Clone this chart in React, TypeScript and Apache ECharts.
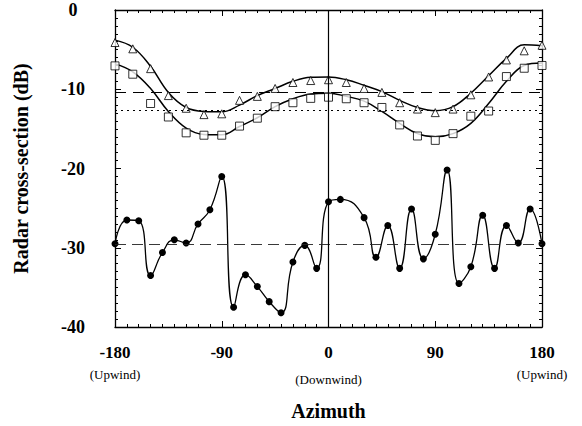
import React, { useEffect, useRef } from "react";
import * as echarts from "echarts";

// Azimuths (degrees) of the open markers and fitted curves
const markerAzimuths = [-180, -165, -150, -135, -120, -105, -90, -75, -60, -45, -30, -15, 0, 15, 30, 45, 60, 75, 90, 105, 120, 135, 150, 165, 180];
// Triangles (measured)
const triangleValues = [-4.1, -4.9, -7.4, -10.8, -12.4, -13.2, -13.1, -11.4, -10.9, -9.9, -9.15, -8.9, -8.8, -9.15, -9.9, -10.4, -11.7, -12.5, -12.95, -12.5, -10.7, -8.45, -6.3, -5.15, -4.45];
// Squares (measured)
const squareValues = [-7.05, -8.1, -11.8, -13.5, -15.5, -15.8, -15.8, -14.65, -13.65, -12.2, -11.7, -11.15, -11.0, -11.2, -11.7, -12.3, -14.5, -15.9, -16.45, -15.6, -13.4, -12.75, -8.4, -7.35, -7.0];
// Fitted curves
const triangleFit = [-3.8, -4.7, -7.1, -10.4, -12.3, -12.8, -12.85, -12.0, -10.8, -9.9, -9.0, -8.5, -8.45, -8.8, -9.5, -10.3, -11.4, -12.3, -12.7, -12.2, -10.5, -8.3, -6.1, -4.4, -4.5];
const squareFit = [-6.8, -7.8, -9.9, -12.8, -14.9, -15.7, -15.75, -14.7, -13.6, -12.2, -11.2, -10.6, -10.5, -10.9, -11.5, -12.8, -14.3, -15.6, -16.0, -15.6, -14.3, -11.8, -9.0, -7.0, -6.7];

// Filled dots (lower series)
const dotAzimuths = [-180, -170, -160, -150, -140, -130, -120, -110, -100, -90, -80, -70, -60, -50, -40, -30, -20, -10, 0, 10, 30, 40, 50, 60, 70, 80, 90, 100, 110, 120, 130, 140, 150, 160, 170, 180];
const dotValues = [-29.5, -26.5, -26.6, -33.5, -30.6, -29.0, -29.4, -27.0, -25.2, -21.0, -37.5, -33.4, -34.9, -36.8, -38.2, -31.8, -29.7, -32.6, -24.2, -23.9, -26.2, -31.2, -27.2, -32.6, -25.1, -31.4, -28.3, -20.2, -34.5, -32.4, -25.9, -32.6, -27.2, -29.4, -25.1, -29.5];

// Reference lines
const upperDashed = -10.4;
const upperDotted = -12.6;
const lowerDashed = -29.6;
const downwindAzimuth = 0;

const xTicks = [-180, -90, 0, 90, 180];
const xSubLabels: Record<string, string> = { "-180": "(Upwind)", "0": "(Downwind)", "180": "(Upwind)" };

const FONT = "Liberation Serif";

const pairs = (xs: number[], ys: number[]) => xs.map((x, i) => [x, ys[i]]);

export default function App() {
  const ref = useRef<HTMLDivElement>(null);
  useEffect(() => {
    document.body.style.margin = "0";
    const chart = echarts.init(ref.current!, null, { renderer: "svg" });
    const axisCommon = {
      axisLine: { show: true, onZero: false, lineStyle: { color: "#000", width: 1.3 } },
      axisTick: { show: true, inside: true, length: 6, lineStyle: { color: "#000", width: 1 } },
      minorTick: { show: true, length: 3, lineStyle: { color: "#000", width: 1 } },
      splitLine: { show: false },
      minorSplitLine: { show: false },
    };
    chart.setOption({
      animation: false,
      backgroundColor: "#fff",
      grid: { left: 115, right: 40, top: 10, height: 318 },
      xAxis: [
        {
          type: "value", min: -180, max: 180, interval: 90, position: "bottom",
          ...axisCommon,
          minorTick: { ...axisCommon.minorTick, splitNumber: 9 },
          name: "Azimuth", nameLocation: "middle", nameGap: 74,
          nameTextStyle: { fontFamily: FONT, fontWeight: "bold", fontSize: 20, color: "#000" },
          axisLabel: {
            margin: 14,
            fontFamily: FONT,
            color: "#000",
            formatter: (v: number) => {
              const sub = xSubLabels[String(v)];
              if (!xTicks.includes(v)) return "";
              if (!sub) return `{a|${v}}`;
              return v === 0 ? `{a|${v}}\n{d|${sub}}` : `{a|${v}}\n{b|${sub}}`;
            },
            rich: {
              a: { fontFamily: FONT, fontWeight: "bold", fontSize: 17, lineHeight: 22, color: "#000" },
              b: { fontFamily: FONT, fontSize: 13, lineHeight: 22, color: "#000" },
              d: { fontFamily: FONT, fontSize: 13, lineHeight: 32, color: "#000" },
            },
          },
        },
        {
          type: "value", min: -180, max: 180, interval: 90, position: "top",
          ...axisCommon,
          minorTick: { ...axisCommon.minorTick, splitNumber: 9 },
          axisLabel: { show: false },
        },
      ],
      yAxis: [
        {
          type: "value", min: -40, max: 0, interval: 10, position: "left",
          ...axisCommon,
          minorTick: { ...axisCommon.minorTick, splitNumber: 10 },
          name: "Radar cross-section (dB)", nameLocation: "middle", nameGap: 84,
          nameTextStyle: { fontFamily: FONT, fontWeight: "bold", fontSize: 20, color: "#000" },
          axisLabel: { margin: 42, align: "center", fontFamily: FONT, fontWeight: "bold", fontSize: 18, color: "#000" },
        },
        {
          type: "value", min: -40, max: 0, interval: 10, position: "right",
          ...axisCommon,
          minorTick: { ...axisCommon.minorTick, splitNumber: 10 },
          axisLabel: { show: false },
        },
      ],
      series: [
        {
          type: "line", name: "triangle fit", data: pairs(markerAzimuths, triangleFit),
          smooth: 0.4, showSymbol: false, symbol: "none",
          lineStyle: { color: "#000", width: 1.5 }, z: 2,
        },
        {
          type: "line", name: "square fit", data: pairs(markerAzimuths, squareFit),
          smooth: 0.4, showSymbol: false, symbol: "none",
          lineStyle: { color: "#000", width: 1.5 }, z: 2,
        },
        {
          type: "scatter", name: "triangles", data: pairs(markerAzimuths, triangleValues),
          symbol: "triangle", symbolSize: 8,
          itemStyle: { color: "#fff", borderColor: "#000", borderWidth: 1 }, z: 3,
        },
        {
          type: "scatter", name: "squares", data: pairs(markerAzimuths, squareValues),
          symbol: "rect", symbolSize: 8,
          itemStyle: { color: "#fff", borderColor: "#000", borderWidth: 1 }, z: 3,
        },
        {
          type: "line", name: "dots", data: pairs(dotAzimuths, dotValues),
          smooth: 0.5, symbol: "circle", symbolSize: 7, showSymbol: true,
          lineStyle: { color: "#000", width: 1.3 },
          itemStyle: { color: "#000" }, z: 3,
          markLine: {
            silent: true, symbol: "none", label: { show: false },
            data: [
              { yAxis: upperDashed, lineStyle: { color: "#000", width: 1, type: [11, 7] } },
              { yAxis: upperDotted, lineStyle: { color: "#000", width: 1, type: [2, 4] } },
              { yAxis: lowerDashed, lineStyle: { color: "#222", width: 0.9, type: [11, 6] } },
              { xAxis: downwindAzimuth, lineStyle: { color: "#000", width: 1.2, type: "solid" } },
            ],
          },
        },
      ],
    });
    return () => chart.dispose();
  }, []);
  return <div ref={ref} style={{ width: 582, height: 426 }} />;
}
